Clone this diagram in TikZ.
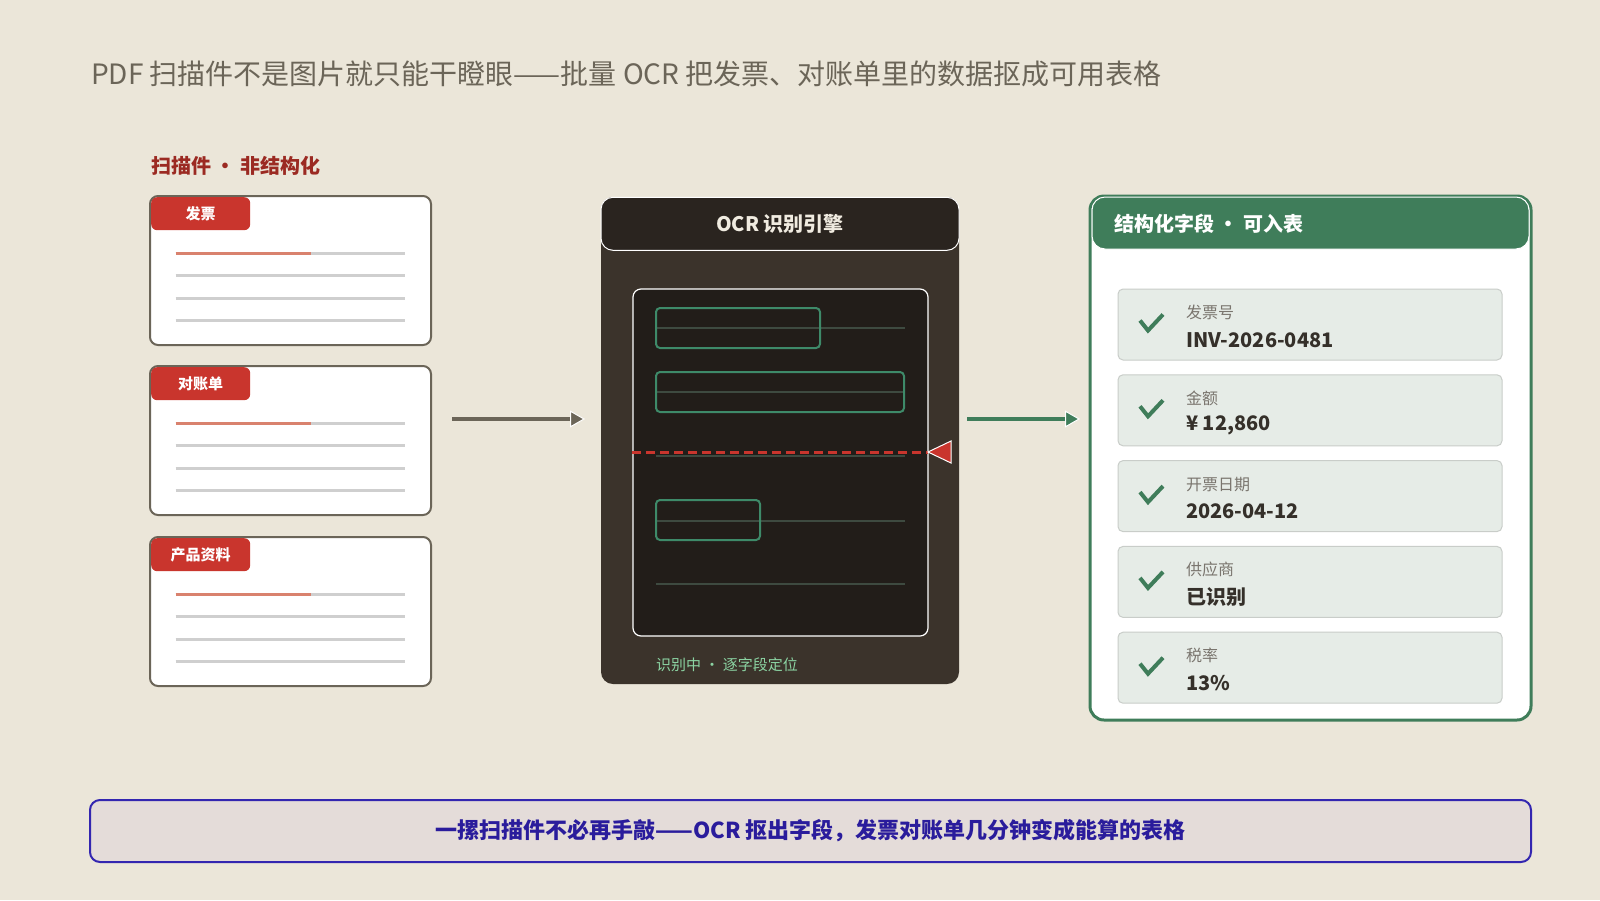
\documentclass[tikz,border=0pt]{standalone}
\usepackage{fontspec}
\setmainfont{Noto Sans CJK SC}
\usetikzlibrary{arrows.meta}

\definecolor{fondo}{HTML}{EBE6D9}
\definecolor{tinta}{HTML}{6B6558}
\definecolor{rojo}{HTML}{C9352D}
\definecolor{rojoosc}{HTML}{9B2A22}
\definecolor{rojoclaro}{HTML}{D9826E}
\definecolor{gris}{HTML}{CFCFCF}
\definecolor{motor}{HTML}{3B332B}
\definecolor{motorcab}{HTML}{2A241F}
\definecolor{pantalla}{HTML}{221D19}
\definecolor{verde}{HTML}{3F7D5A}
\definecolor{verdebox}{HTML}{3E8A69}
\definecolor{verdelinea}{HTML}{3E4A40}
\definecolor{verdetxt}{HTML}{8BD3A2}
\definecolor{fila}{HTML}{E6ECE7}
\definecolor{filaborde}{HTML}{C9CDC9}
\definecolor{etiqueta}{HTML}{7A756E}
\definecolor{valor}{HTML}{35302A}
\definecolor{azul}{HTML}{3326B0}
\definecolor{azultxt}{HTML}{2A1C9C}
\definecolor{banda}{HTML}{E4DCD9}

\newcommand\fsz[1]{\fontsize{#1}{#1}\selectfont}

\tikzset{
  texto/.style={inner sep=0pt, anchor=west},
  tarjeta/.style={draw=tinta, line width=2pt, fill=white, rounded corners=8pt,
    minimum width=281pt, minimum height=149pt, inner sep=0pt, outer sep=0pt},
  pestana/.style={fill=rojo, rounded corners=6pt, text=white,
    minimum width=99pt, minimum height=33pt, inner sep=0pt,
    font=\bfseries\fsz{15}},
  linea/.style={line width=3pt, gris},
  flecha/.style={line width=4pt, draw=#1,
    -{Triangle[length=15pt,width=17pt,line width=1pt,color=white,fill=#1]}},
  caja/.style={draw=verdebox, line width=2pt, rounded corners=4pt},
  guia/.style={draw=verdelinea, line width=2pt},
  fila/.style={fill=fila, draw=filaborde, line width=1pt, rounded corners=5pt,
    minimum width=384pt, minimum height=71pt, inner sep=0pt},
  check/.style={draw=verde, line width=4pt}
}

\begin{document}
\begin{tikzpicture}[x=1pt,y=-1pt]

  % Fondo
  \fill[fondo] (0,0) rectangle (1600,900);
  \useasboundingbox (0,0) rectangle (1600,900);

  % Título
  \node[texto, text=tinta] (titulo) at (91,74)
    {\fsz{28}PDF 扫描件不是图片就只能干瞪眼——批量 OCR 把发票、对账单里的数据抠成可用表格};

  % Escaneos
  \node[texto, text=rojoosc] (escaneos) at (151,166)
    {\bfseries\fsz{20}扫描件 · 非结构化};

  \foreach \nom/\tab/\dy in {fp/发票/0, dz/对账单/170, cp/产品资料/341} {
    \node[tarjeta] (\nom) at (290.5,270.5+\dy) {};
    \node[pestana, anchor=north west] (\nom-tab)
      at ([shift={(1,1)}]\nom.north west) {\tab};
    \foreach \ly in {57,79.5,102,124.5}
      \draw[linea] ([shift={(25.5,\ly)}]\nom.north west) -- ++(229.5,0);
    \draw[linea, rojoclaro] ([shift={(25.5,57)}]\nom.north west) -- ++(135.5,0);
  }

  % Motor OCR
  \node[fill=motor, rounded corners=12pt, minimum width=358pt,
    minimum height=487pt, inner sep=0pt] (motor) at (780,440.5) {};
  \node[fill=motorcab, draw=white, line width=1pt, rounded corners=12pt,
    minimum width=358pt, minimum height=53pt, inner sep=0pt,
    text={rgb,255:red,240;green,235;blue,224}, font=\bfseries\fsz{20},
    anchor=north] (motorcab) at (motor.north) {OCR 识别引擎};
  \node[fill=pantalla, draw=white, line width=1.2pt, rounded corners=8pt,
    minimum width=295pt, minimum height=347pt, inner sep=0pt]
    (pantalla) at (780.5,462.5) {};

  % Renglones y campos detectados
  \foreach \ly in {327.5,392,456,520.5,584}
    \draw[guia] (656,\ly) -- (905,\ly);
  \draw[caja] (656,308) rectangle (820,348);
  \draw[caja] (656,372) rectangle (904,412);
  \draw[caja] (656,500) rectangle (760,540);

  % Línea de escaneo
  \coordinate (escR) at (928,452);
  \draw[rojo, line width=3pt, dash pattern=on 9pt off 5pt]
    (escR -| pantalla.west) -- (escR);
  \filldraw[fill=rojo, draw=white, line width=1pt]
    (escR) -- ++(23,-11) -- ++(0,22) -- cycle;

  \node[texto, text=verdetxt] (estado) at (656,665)
    {\fsz{15}识别中 · 逐字段定位};

  % Flechas
  \coordinate (salidaL) at (452,419);
  \coordinate (entradaM) at (585,419);
  \draw[flecha=tinta] (salidaL) -- (entradaM);

  \coordinate (salidaM) at (967,419);
  \coordinate (entradaR) at (1080,419);
  \draw[flecha=verde] (salidaM) -- (entradaR);

  % Campos estructurados
  \node[fill=white, draw=verde, line width=3pt, rounded corners=14pt,
    minimum width=441pt, minimum height=524pt, inner sep=0pt]
    (campos) at (1310.5,458) {};
  \node[fill=verde, draw=white, line width=1pt, rounded corners=13pt,
    minimum width=437pt, minimum height=52pt, inner sep=0pt, anchor=north]
    (camposcab) at ([yshift=-2pt]campos.north) {};
  \node[texto, text=white] (campostit) at (1114,223.5)
    {\bfseries\fsz{20}结构化字段 · 可入表};

  \foreach \i/\etq/\val in {0/发票号/INV-2026-0481, 1/金额/{¥ 12,860},
      2/开票日期/2026-04-12, 3/供应商/已识别, 4/税率/13\%} {
    \node[fila] (f\i) at (1310,324.5+85.8*\i) {};
    \draw[check] ([shift={(-170,-4)}]f\i.center) -- ++(8,10) -- ++(15,-16);
    \node[texto, text=etiqueta] (f\i-etq) at ([shift={(-124,-12)}]f\i.center)
      {\fsz{16}\etq};
    \node[texto, text=valor] (f\i-val) at ([shift={(-124,15.5)}]f\i.center)
      {\bfseries\fsz{20}\val};
  }

  % Conclusión
  \node[fill=banda, draw=azul, line width=2pt, rounded corners=10pt,
    minimum width=1441pt, minimum height=62pt, inner sep=0pt,
    text=azultxt, font=\bfseries\fsz{22}] (resumen) at (810.5,831)
    {\raisebox{-6pt}{一摞扫描件不必再手敲——OCR 抠出字段，发票对账单几分钟变成能算的表格}};

\end{tikzpicture}
\end{document}
